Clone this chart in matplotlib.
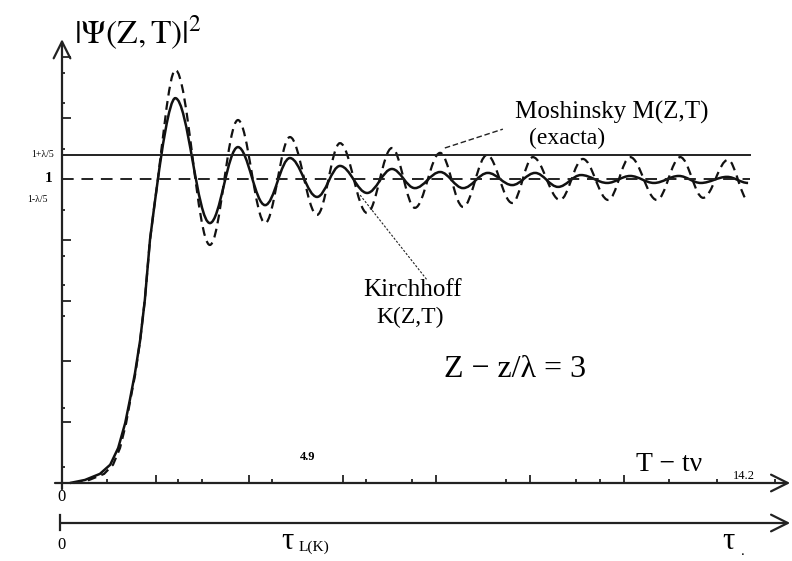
import numpy as np
import matplotlib
matplotlib.use('Agg')
import matplotlib.pyplot as plt
from matplotlib.path import Path
from matplotlib.patches import PathPatch

plt.rcParams['font.family'] = ['Liberation Serif', 'DejaVu Serif']
plt.rcParams['mathtext.fontset'] = 'stix'

# %% data (T units, |Psi|^2)

# rise from 0 up to the first crossing of 1
rise_T_K = [0.17, 0.49, 0.81, 1.03, 1.20, 1.35, 1.45, 1.56, 1.67, 1.77, 1.88, 1.97, 2.05]
rise_K   = [0.0, 0.01, 0.03, 0.06, 0.115, 0.197, 0.273, 0.362, 0.470, 0.602, 0.80, 0.908, 1.0]
rise_T_M = [0.25, 0.58, 0.90, 1.09, 1.24, 1.37, 1.46, 1.57, 1.67, 1.77, 1.88, 1.97, 2.05]
rise_M   = [0.0, 0.01, 0.03, 0.06, 0.115, 0.197, 0.273, 0.362, 0.470, 0.602, 0.80, 0.908, 1.0]

# successive maxima / minima of the oscillations (last value = end of curve)
ext_T_K = [2.42, 3.16, 3.76, 4.34, 4.87, 5.45, 5.94, 6.52, 7.05, 7.54, 8.08, 8.57,
           9.10, 9.62, 10.11, 10.60, 11.09, 11.65, 12.14, 12.65, 13.18, 13.65, 14.21, 14.66]
ext_K   = [1.266, 0.855, 1.105, 0.914, 1.069, 0.941, 1.043, 0.954, 1.033, 0.970, 1.023, 0.970,
           1.020, 0.980, 1.020, 0.974, 1.013, 0.987, 1.010, 0.987, 1.010, 0.987, 1.007, 0.987]
ext_T_M = [2.42, 3.16, 3.76, 4.34, 4.87, 5.45, 5.94, 6.52, 7.05, 7.54, 8.08, 8.57,
           9.08, 9.62, 10.06, 10.64, 11.13, 11.67, 12.14, 12.71, 13.21, 13.70, 14.23, 14.66]
ext_M   = [1.359, 0.783, 1.194, 0.855, 1.138, 0.882, 1.118, 0.888, 1.102, 0.905, 1.086, 0.908,
           1.079, 0.921, 1.072, 0.931, 1.066, 0.931, 1.072, 0.931, 1.072, 0.938, 1.063, 0.931]

level_one = 1.0
level_up = 1.079
line_end = 14.70

# axis ticks
x_major = [2, 4, 6, 8, 10, 12]
x_minor = [0.96, 2.48, 2.99, 4.49, 6.50, 7.48, 9.49, 10.98, 11.50, 12.97, 14.0, 15.24]
y_major = [0.2, 0.4, 0.6, 0.8, 1.2, 1.4]
y_minor = [0.053, 0.247, 0.549, 0.651, 0.747, 0.898, 1.099, 1.250, 1.349]


def curve_path(rt, rv, et, ev):
    verts = list(zip(rt, rv))
    codes = [Path.MOVETO] + [Path.LINETO] * (len(verts) - 1)
    x0, y0 = verts[-1]
    xp, yp = verts[-2]
    verts += [(x0 + 0.8 * (x0 - xp), y0 + 0.8 * (y0 - yp)),
              (et[0] - 0.35 * (et[0] - x0), ev[0]), (et[0], ev[0])]
    codes += [Path.CURVE4] * 3
    for i in range(1, len(et)):
        d = 0.36 * (et[i] - et[i - 1])
        verts += [(et[i - 1] + d, ev[i - 1]), (et[i] - d, ev[i]), (et[i], ev[i])]
        codes += [Path.CURVE4] * 3
    return Path(verts, codes)


# %% figure
fig = plt.figure(figsize=(7.92, 5.61), dpi=100)
ax = fig.add_axes([0, 0, 1, 1])
ax.set_xlim(-62 / 46.8, (792 - 62) / 46.8)
ax.set_ylim(-(561 - 483) / 304, 483 / 304)
ax.axis('off')

# axes with arrows
arr = dict(arrowstyle='->,head_length=0.6,head_width=0.3', lw=1.6, color='#222222',
           mutation_scale=20, shrinkA=0, shrinkB=0)
ax.annotate('', xy=(15.56, 0), xytext=(-0.15, 0), arrowprops=arr)
ax.annotate('', xy=(0, 1.46), xytext=(0, -0.02), arrowprops=arr)
ax.annotate('', xy=(15.56, -0.1316), xytext=(-0.04, -0.1316), arrowprops=arr)
ax.plot([-0.04, -0.04], [-0.105, -0.155], color='#222222', lw=1.6)

# ticks
ax.vlines(x_major, 0, 0.027, color='#222222', lw=1.3)
ax.vlines(x_minor, 0, 0.014, color='#222222', lw=1.3)
ax.hlines(y_major, 0, 0.19, color='#222222', lw=1.3)
ax.hlines(y_minor, 0, 0.07, color='#222222', lw=1.3)

# reference levels
ax.plot([0, line_end], [level_up, level_up], color='#222222', lw=1.4)
ax.plot([0, line_end], [level_one, level_one], color='#222222', lw=1.4,
        linestyle=(0, (6, 4)))

# curves
ax.add_patch(PathPatch(curve_path(rise_T_M, rise_M, ext_T_M, ext_M), fill=False,
                       lw=1.6, edgecolor='#111111', linestyle=(0, (4, 2.5))))
ax.add_patch(PathPatch(curve_path(rise_T_K, rise_K, ext_T_K, ext_K), fill=False,
                       lw=1.8, edgecolor='#111111'))

# leader lines
ax.plot([8.18, 9.42], [1.102, 1.164], color='#222222', lw=1.0, linestyle=(0, (4, 2)))
ax.plot([6.37, 7.80], [0.947, 0.668], color='#222222', lw=0.8, linestyle=(0, (2, 1.5)))

# texts
ax.text(1.62, 1.48, r'$|\Psi(\mathrm{Z,T})|^{2}$', fontsize=24, ha='center', va='center')
ax.text(-0.17, level_up, '1+λ/5', fontsize=7, ha='right', va='center')
ax.text(-0.21, level_one, '1', fontsize=11, fontweight='bold', ha='right', va='center')
ax.text(-0.30, 0.931, '1-λ/5', fontsize=7, ha='right', va='center')
ax.text(0, -0.046, '0', fontsize=12, ha='center', va='center')
ax.text(0, -0.204, '0', fontsize=12, ha='center', va='center')
ax.text(5.25, 0.086, '4.9', fontsize=9, fontweight='bold', ha='center', va='center')
ax.text(14.57, 0.022, '14.2', fontsize=9, ha='center', va='center')
ax.text(12.98, 0.06, 'T − tν', fontsize=20, ha='center', va='center')
ax.text(4.82, -0.192, 'τ', fontsize=22, ha='center', va='center')
ax.text(5.05, -0.21, 'L(K)', fontsize=11, ha='left', va='center')
ax.text(14.25, -0.192, 'τ', fontsize=22, ha='center', va='center')
ax.text(14.5, -0.225, '.', fontsize=11, ha='left', va='center')
ax.text(11.75, 1.22, 'Moshinsky M(Z,T)', fontsize=18, ha='center', va='center')
ax.text(10.79, 1.135, '(exacta)', fontsize=17, ha='center', va='center')
ax.text(7.48, 0.635, 'Kirchhoff', fontsize=18, ha='center', va='center')
ax.text(7.44, 0.543, 'K(Z,T)', fontsize=17, ha='center', va='center')
ax.text(9.68, 0.372, 'Z − z/λ = 3', fontsize=23, ha='center', va='center')

fig.savefig('out.png', dpi=100)
